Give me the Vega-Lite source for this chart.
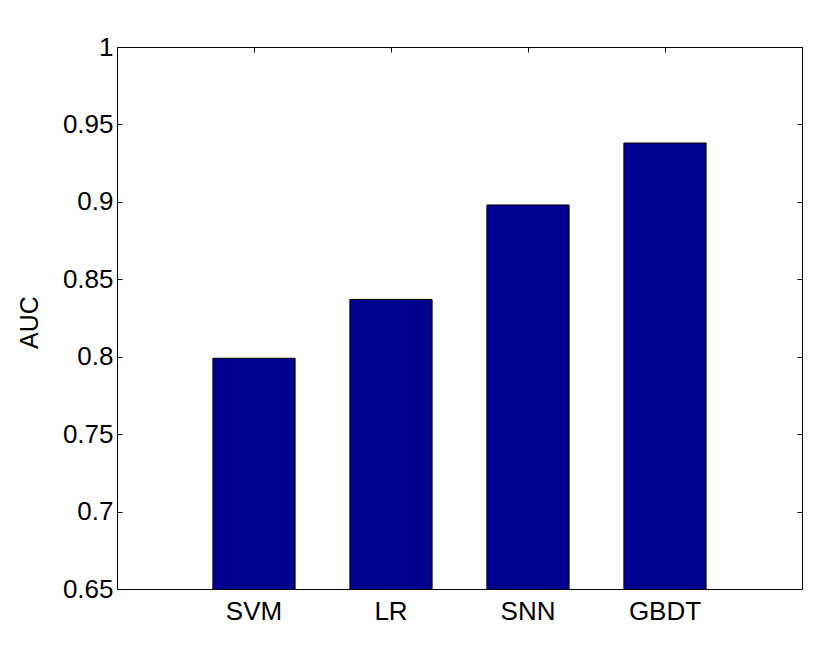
{
  "$schema": "https://vega.github.io/schema/vega-lite/v6.json",
  "autosize": "none",
  "width": 685,
  "height": 542,
  "padding": {"left": 117, "top": 47, "right": 28, "bottom": 58},
  "background": "white",
  "config": {
    "view": {"stroke": "black", "strokeWidth": 1},
    "font": "Liberation Sans",
    "axis": {"labelFont": "Liberation Sans", "titleFont": "Liberation Sans", "labelColor": "black", "titleColor": "black", "domainColor": "black", "tickColor": "black", "grid": false}
  },
  "data": {"values": [
    {"model": "SVM", "auc": 0.799},
    {"model": "LR", "auc": 0.837},
    {"model": "SNN", "auc": 0.898},
    {"model": "GBDT", "auc": 0.938}
  ]},
  "layer": [
    {
      "mark": {"type": "bar", "color": "#00008F", "stroke": "black", "strokeWidth": 1, "clip": true},
      "encoding": {
        "x": {"field": "model", "type": "nominal", "sort": null,
          "scale": {"paddingInner": 0.4, "paddingOuter": 0.7},
          "axis": {"orient": "bottom", "title": null, "labelAngle": 0, "labelFontSize": 26, "labelPadding": 14, "tickSize": -5, "domain": false}},
        "y": {"field": "auc", "type": "quantitative",
          "scale": {"domain": [0.65, 1], "zero": false, "nice": false},
          "axis": {"orient": "left", "title": "AUC", "titleFontSize": 25, "titleFontWeight": "normal", "titleX": -88, "titleY": 275, "titleAngle": -90, "titleAlign": "center", "titleBaseline": "middle", "labelFontSize": 26, "labelPadding": 9, "tickSize": -5, "domain": false,
            "values": [0.65, 0.7, 0.75, 0.8, 0.85, 0.9, 0.95, 1], "format": ".2~f"}}
      }
    },
    {
      "mark": {"type": "bar", "opacity": 0},
      "encoding": {
        "x": {"field": "model", "type": "nominal", "sort": null,
          "axis": {"orient": "top", "title": null, "labels": false, "tickSize": -5, "domain": false}},
        "y": {"field": "auc", "type": "quantitative",
          "axis": {"orient": "right", "title": null, "labels": false, "tickSize": -5, "domain": false,
            "values": [0.65, 0.7, 0.75, 0.8, 0.85, 0.9, 0.95, 1]}}
      }
    }
  ],
  "resolve": {"axis": {"x": "independent", "y": "independent"}}
}
